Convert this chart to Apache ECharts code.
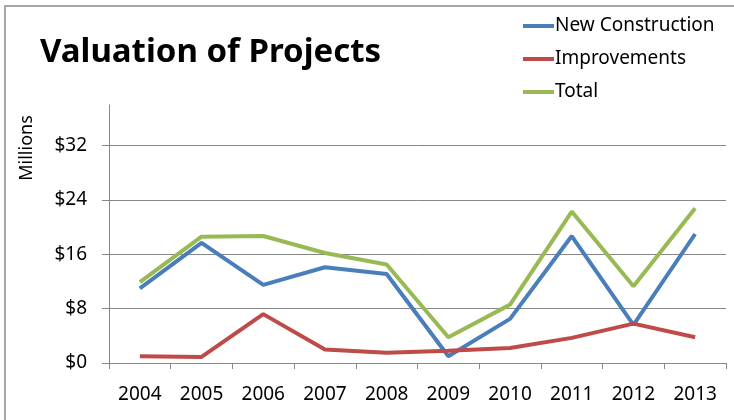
<!DOCTYPE html>
<html>
<head>
<meta charset="utf-8">
<script src="https://cdn.jsdelivr.net/npm/echarts@6/dist/echarts.min.js"></script>
<style>
	html, body { margin: 0; padding: 0; background: #fff; }
	#chart { width: 734px; height: 420px; }
</style>
</head>
<body>
<div id="chart"></div>
<script>
	// data (millions of dollars)
	var years = ['2004', '2005', '2006', '2007', '2008', '2009', '2010', '2011', '2012', '2013'];
	var newConstruction = [11.0, 17.7, 11.5, 14.1, 13.1, 1.0, 6.5, 18.7, 5.6, 19.0];
	var improvements = [1.0, 0.9, 7.2, 2.0, 1.5, 1.8, 2.2, 3.7, 5.8, 3.8];
	var total = [11.9, 18.6, 18.7, 16.2, 14.5, 3.8, 8.6, 22.3, 11.3, 22.8];

	var font = '"Noto Sans", sans-serif';
	var grey = '#878787';

	var chart = echarts.init(document.getElementById('chart'));
	chart.setOption({
		animation: false,
		color: ['#4a7ebb', '#be4b48', '#98b954'],
		textStyle: { fontFamily: font },
		title: {
			text: 'Valuation of Projects',
			left: 35,
			top: 31,
			textStyle: { fontFamily: font, fontSize: 33, fontWeight: 'bold', color: '#000' }
		},
		legend: {
			orient: 'vertical',
			left: 518,
			top: 10,
			icon: 'rect',
			itemWidth: 31,
			itemHeight: 4,
			itemGap: 11,
			textStyle: { fontFamily: font, fontSize: 19, color: '#000', lineHeight: 22, padding: [0, 0, 0, -4] },
			data: ['New Construction', 'Improvements', 'Total']
		},
		graphic: [
			{
				type: 'rect',
				z: -1,
				shape: { x: 5, y: 6, width: 800, height: 500 },
				style: { fill: null, stroke: '#a6a6a6', lineWidth: 2 }
			},
			{
				type: 'text',
				x: 27,
				y: 148,
				rotation: Math.PI / 2,
				style: { text: 'Millions', fontFamily: font, fontSize: 18, fill: '#000', align: 'center', verticalAlign: 'middle' }
			}
		],
		grid: { left: 109, right: 8, top: 105, bottom: 57 },
		xAxis: {
			type: 'category',
			data: years,
			boundaryGap: true,
			axisLine: { lineStyle: { color: grey, width: 1 } },
			axisTick: { show: true, length: 6, lineStyle: { color: grey } },
			axisLabel: { color: '#000', fontSize: 19, margin: 22, fontFamily: font }
		},
		yAxis: {
			type: 'value',
			min: 0,
			max: 38,
			interval: 8,
			axisLine: { show: true, lineStyle: { color: grey, width: 1 } },
			axisTick: { show: true, length: 7, lineStyle: { color: grey } },
			splitLine: { show: true, showMaxLine: false, lineStyle: { color: grey, width: 1 } },
			axisLabel: {
				color: '#000',
				fontSize: 19,
				margin: 22,
				fontFamily: font,
				showMaxLabel: false,
				formatter: function (v) { return '$' + v; }
			}
		},
		series: [
			{ name: 'New Construction', type: 'line', data: newConstruction, showSymbol: false, lineStyle: { width: 4 } },
			{ name: 'Improvements', type: 'line', data: improvements, showSymbol: false, lineStyle: { width: 4 } },
			{ name: 'Total', type: 'line', data: total, showSymbol: false, lineStyle: { width: 4 } }
		]
	});
</script>
</body>
</html>
